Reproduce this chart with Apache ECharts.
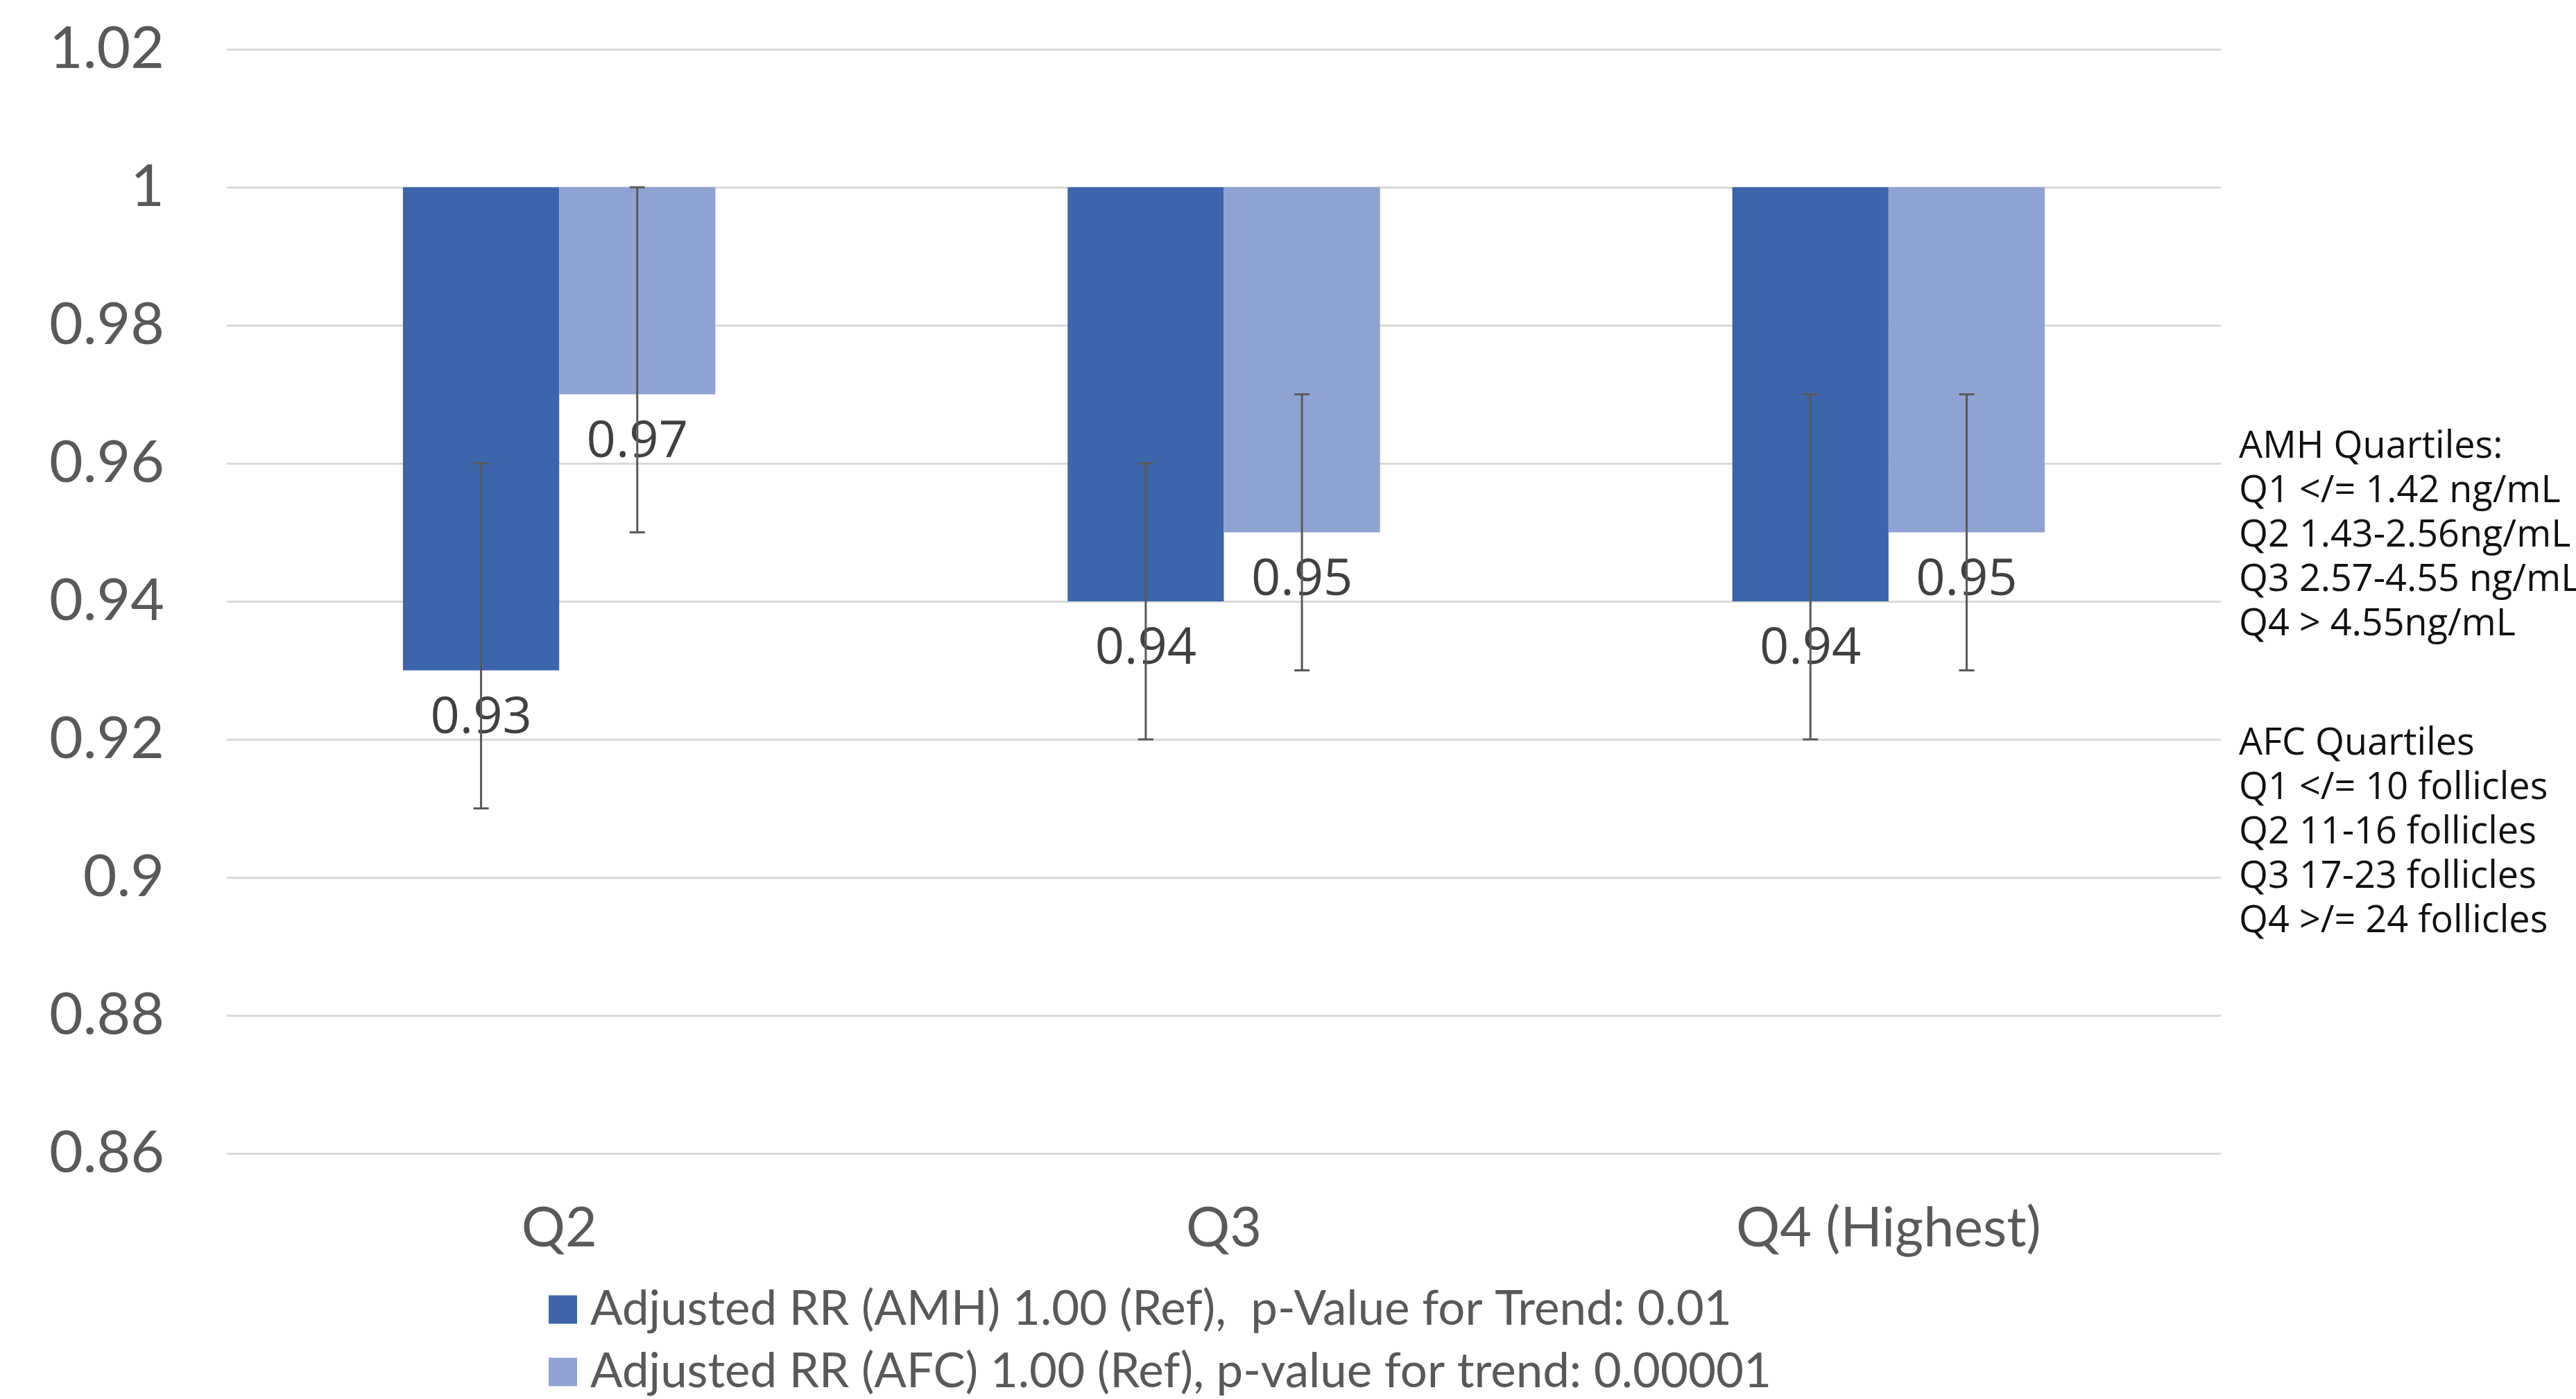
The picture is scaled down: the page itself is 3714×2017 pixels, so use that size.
<!DOCTYPE html>
<html>
<head>
<meta charset="utf-8">
<script src="https://cdn.jsdelivr.net/npm/echarts@6/dist/echarts.min.js"></script>
<style>
html,body{margin:0;padding:0;background:#fff;}
#chart{width:3714px;height:2017px;}
</style>
</head>
<body>
<div id="chart"></div>
<script>
// ---- data ----
var categories = ['Q2', 'Q3', 'Q4 (Highest)'];
var amhValues = [0.93, 0.94, 0.94];
var afcValues = [0.97, 0.95, 0.95];
var amhLow = [0.91, 0.92, 0.92];
var amhHigh = [0.96, 0.96, 0.97];
var afcLow = [0.95, 0.93, 0.93];
var afcHigh = [1.00, 0.97, 0.97];
var refValue = 1;
var yTicks = { min: 0.86, max: 1.02, interval: 0.02 };
var amhName = 'Adjusted RR (AMH) 1.00 (Ref),  p-Value for Trend: 0.01';
var afcName = 'Adjusted RR (AFC) 1.00 (Ref), p-value for trend: 0.00001';
var amhNoteLines = ['AMH Quartiles:', 'Q1 </= 1.42 ng/mL', 'Q2 1.43-2.56ng/mL', 'Q3 2.57-4.55 ng/mL', 'Q4 > 4.55ng/mL'];
var afcNoteLines = ['AFC Quartiles', 'Q1 </= 10 follicles', 'Q2 11-16 follicles', 'Q3 17-23 follicles', 'Q4 >/= 24 follicles'];

var AMH_COLOR = '#3D65AB';
var AFC_COLOR = '#8FA3D3';
var AXIS_FONT = 'Lato';

var chart = echarts.init(document.getElementById('chart'));

function diff(arr) { return arr.map(function (v) { return +(refValue - v).toFixed(4); }); }

var errData = [];
for (var i = 0; i < categories.length; i++) {
  errData.push([i, amhLow[i], amhHigh[i], -1]);
  errData.push([i, afcLow[i], afcHigh[i], 1]);
}

var labelCfg = {
  show: true,
  position: 'insideTop',
  distance: 32,
  fontFamily: 'Open Sans',
  fontSize: 74,
  lineHeight: 74,
  color: '#404040',
  formatter: function (p) { return p.value.toFixed(2); }
};

var noteGraphics = [];
var noteFont = '54px "Open Sans"';
amhNoteLines.forEach(function (t, k) {
  noteGraphics.push({ type: 'text', left: 3228, top: 642 - 24 + k * 64, silent: true,
    style: { text: t, font: noteFont, fill: '#111' } });
});
afcNoteLines.forEach(function (t, k) {
  noteGraphics.push({ type: 'text', left: 3228, top: 1068 - 22 + k * 64, silent: true,
    style: { text: t, font: noteFont, fill: '#111' } });
});

var option = {
  animation: false,
  backgroundColor: '#fff',
  grid: { left: 327, right: 512, top: 71, bottom: 354, containLabel: false },
  legend: {
    orient: 'vertical',
    left: 786,
    top: 1843,
    height: 600,
    itemWidth: 41,
    itemHeight: 41,
    itemGap: 10,
    icon: 'rect',
    data: [amhName, afcName],
    textStyle: { fontFamily: AXIS_FONT, fontSize: 69, lineHeight: 80, color: '#595959', padding: [0, 0, 0, 14] }
  },
  xAxis: {
    type: 'category',
    data: categories,
    axisLine: { show: false },
    axisTick: { show: false },
    axisLabel: { fontFamily: AXIS_FONT, fontSize: 79, lineHeight: 96, color: '#595959', margin: 61 }
  },
  yAxis: {
    type: 'value',
    min: yTicks.min,
    max: yTicks.max,
    interval: yTicks.interval,
    axisLine: { show: false },
    axisTick: { show: false },
    splitLine: { lineStyle: { color: '#D9D9D9', width: 3 } },
    axisLabel: {
      fontFamily: AXIS_FONT, fontSize: 84, color: '#595959', margin: 90,
      formatter: function (v) { return String(+v.toFixed(2)); }
    }
  },
  series: [
    { name: 'amhBase', type: 'bar', stack: 'amh', data: amhValues, barGap: '0%', barCategoryGap: '53%',
      itemStyle: { color: 'rgba(0,0,0,0)' }, label: labelCfg, silent: true },
    { name: amhName, type: 'bar', stack: 'amh', data: diff(amhValues), itemStyle: { color: AMH_COLOR } },
    { name: 'afcBase', type: 'bar', stack: 'afc', data: afcValues,
      itemStyle: { color: 'rgba(0,0,0,0)' }, label: labelCfg, silent: true },
    { name: afcName, type: 'bar', stack: 'afc', data: diff(afcValues), itemStyle: { color: AFC_COLOR } },
    {
      name: 'errors', type: 'custom', data: errData, z: 10, silent: true,
      encode: { x: 0, y: [1, 2] },
      renderItem: function (params, api) {
        var band = api.size([1, 0])[0];
        var off = api.value(3) * band * 0.1175;
        var lo = api.coord([api.value(0), api.value(1)]);
        var hi = api.coord([api.value(0), api.value(2)]);
        var x = lo[0] + off;
        var cap = 11;
        var st = { stroke: '#595959', lineWidth: 3 };
        return { type: 'group', children: [
          { type: 'line', shape: { x1: x, y1: lo[1], x2: x, y2: hi[1] }, style: st },
          { type: 'line', shape: { x1: x - cap, y1: lo[1], x2: x + cap, y2: lo[1] }, style: st },
          { type: 'line', shape: { x1: x - cap, y1: hi[1], x2: x + cap, y2: hi[1] }, style: st }
        ] };
      }
    }
  ],
  graphic: noteGraphics
};
chart.setOption(option);
</script>
</body>
</html>
